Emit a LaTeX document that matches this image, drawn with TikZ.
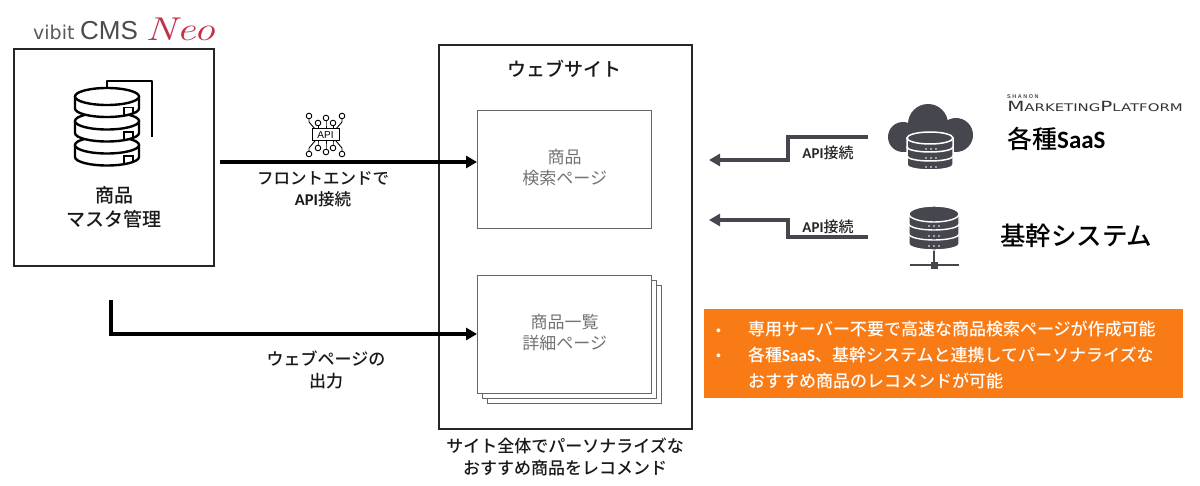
\documentclass[tikz,border=0pt]{standalone}
\usepackage{fontspec}
\setmainfont{Noto Sans CJK JP}[BoldFont={Noto Sans CJK JP Medium}]
\newfontfamily\latinfont{Liberation Sans}
\newfontfamily\widefont{DejaVu Sans}
\newfontfamily\neofont{Latin Modern Roman}
\newfontfamily\saasfont{Carlito}
\definecolor{iconGray}{HTML}{46464E}
\definecolor{barOrange}{HTML}{F97B16}
\definecolor{logoRed}{HTML}{C4304A}
\usetikzlibrary{arrows.meta, positioning, calc}

\begin{document}
\begin{tikzpicture}[x=1pt, y=-1pt,
    panel/.style={draw=black!85, line width=1.6pt, fill=white, anchor=north west, inner sep=0pt, outer sep=0pt},
    pagebox/.style={draw=black!60, line width=1.3pt, fill=white, anchor=north west, minimum width=174pt, minimum height=118pt, inner sep=0pt, align=center, font=\fontsize{17}{21}\selectfont, text=black!55, text depth=6pt},
    label/.style={align=center, font=\fontsize{17}{22}\selectfont\bfseries, text=black!90},
    apilabel/.style={font=\fontsize{15}{16}\selectfont\bfseries, text=black!85},
    flow/.style={line width=3.6pt, black, -{Triangle[length=11pt, width=12pt]}},
    backflow/.style={line width=3.2pt, iconGray, -{Triangle[length=11pt, width=12pt]}},
    summarytext/.style={font=\fontsize{17}{26}\selectfont\bfseries, text=white, anchor=north west, align=left, inner sep=0pt},
    summarymark/.style={font=\fontsize{14}{14}\selectfont\latinfont, text=white, anchor=base west, inner sep=0pt}
]
    \useasboundingbox (0,0) rectangle (1200,486);
    \fill[white] (0,0) rectangle (1200,486);

    % left side
    \node[font=\fontsize{19}{19}\selectfont\widefont, text=black!65, anchor=base west, inner sep=0pt] (logovibit) at (33,40) {vibit};
    \node[font=\fontsize{26}{26}\selectfont\latinfont, text=black!70, anchor=base west, inner sep=0pt] (logocms) at (80,40) {CMS};
    \node[font=\fontsize{33}{33}\selectfont\neofont\itshape, text=logoRed, anchor=base west, inner sep=0pt, xscale=1.3] (logoneo) at (145,41) {Neo};
    \node[panel, minimum width=200pt, minimum height=217pt] (cms) at (14,49) {};
    \node[label, font=\fontsize{19}{24}\selectfont\bfseries] (cmslabel) at (114,207) {商品\\マスタ管理};

    % database icon
    \draw[line width=2.5pt, line join=round] (107,96) -- (107,81) -- (152,81) -- (152,137);
    \foreach \y in {145,121,96.5}{
        \draw[line width=2.4pt, fill=white] (75,\y) -- (75,\y+12) arc[start angle=180, end angle=360, x radius=32, y radius=-8.5] -- (139,\y);
        \draw[line width=2.4pt, fill=white] (107,\y) ellipse[x radius=32, y radius=8.5];
        \draw[line width=1.8pt] (124,\y+19) -- (124,\y+11) -- (133,\y+11) -- (133,\y+18);
    }

    % website
    \node[panel, minimum width=253pt, minimum height=384pt] (site) at (439,45) {};
    \node[label, font=\fontsize{19}{19}\selectfont\bfseries] (sitetitle) at (564,69) {ウェブサイト};
    \node[pagebox] (search) at (477,110) {商品\\検索ページ};
    \node[pagebox] (listc) at (487,285) {};
    \node[pagebox] (listb) at (482,280) {};
    \node[pagebox] (list) at (477,275) {商品一覧\\詳細ページ};
    \node[label] (sitenote) at (565,457) {サイト全体でパーソナライズな\\おすすめ商品をレコメンド};

    % api icon
    \foreach \x/\e/\t/\b in {309/315/116/154,318/318/123/148,326/326/118/152,333/333/123/148,342/336/116/154}{
        \draw[line width=.9pt] (\x,\t) -- (\x,\t+6) -- (\e,129);
        \draw[line width=.9pt] (\x,\b) -- (\x,\b-6) -- (\e,141);
        \draw[line width=.9pt, fill=white] (\x,\t) circle[radius=2.8];
        \draw[line width=.9pt, fill=white] (\x,\b) circle[radius=2.8];
    }
    \node[draw, fill=white, line width=1pt, inner sep=0pt, minimum width=27pt, minimum height=12pt, font=\fontsize{10}{10}\selectfont\latinfont] (apiicon) at (325.5,135) {API};

    % connectors
    \coordinate (cmsout) at (220,162);
    \coordinate (cmsdown) at (111,300);
    \coordinate (cmscorner) at (111,334);
    \draw[flow] (cmsout) -- (search.west |- cmsout);
    \draw[flow] (cmsdown) -- (cmscorner) -- (list.west |- cmscorner);
    \node[label, font=\fontsize{16.5}{21}\selectfont\bfseries] (frontlabel) at (323,189.5) {フロントエンドで\\{\saasfont API}接続};
    \node[label] (outlabel) at (326,370) {ウェブページの\\出力};

    % right side
    \coordinate (saasout) at (868,137);
    \coordinate (saasin) at (709,160);
    \coordinate (coreout) at (868,237);
    \coordinate (corein) at (709,220);
    \draw[backflow] (saasout) -- (788,137) -- (788,160) -- (saasin);
    \draw[backflow] (coreout) -- (788,237) -- (788,220) -- (corein);
    \node[apilabel] (saasapi) at (828,153) {{\saasfont API}接続};
    \node[apilabel] (coreapi) at (828,227) {{\saasfont API}接続};

    % cloud icon
    \fill[iconGray] (903,137) circle[radius=15] (928,124) circle[radius=20] (956,135) circle[radius=17];
    \fill[iconGray] (903,130) rectangle (956,152);
    \foreach \y in {156,147,138}{
        \fill[iconGray, draw=white, line width=1.5pt] (907,\y) -- (907,\y+9) arc[start angle=180, end angle=360, x radius=23, y radius=-5] -- (953,\y) -- cycle;
    }
    \fill[iconGray, draw=white, line width=1.5pt] (930,138) ellipse[x radius=23, y radius=6];
    \foreach \y in {149,158,167}{
        \foreach \x in {-5,0,5}{
            \fill[white] (931+\x,\y) circle[radius=.9];
        }
    }

    % server icon
    \draw[iconGray, line width=1.6pt] (934,250) -- (934,266) (910,265) -- (959,265);
    \fill[iconGray] (931,262) rectangle (938,269);
    \foreach \y in {234,224,214}{
        \fill[iconGray, draw=white, line width=1.4pt] (909,\y) -- (909,\y+10) arc[start angle=180, end angle=360, x radius=25, y radius=-6] -- (959,\y) -- cycle;
    }
    \fill[iconGray, draw=white, line width=1.4pt] (934,214) ellipse[x radius=25, y radius=8];
    \foreach \y in {226,236,246}{
        \foreach \x in {-5,0,5}{
            \fill[white] (934+\x,\y) circle[radius=.9];
        }
    }

    % logo and system names
    \node[font=\fontsize{5.5}{6}\selectfont\latinfont\bfseries, text=black!70, anchor=base west, inner sep=0pt] (logoshanon) at (1007,99) {S H A N O N};
    \node[font=\fontsize{14}{14}\selectfont\widefont, text=black!80, anchor=base west, inner sep=0pt, xscale=1.42] (logomkt) at (1007,112) {M{\fontsize{10.5}{14}\selectfont ARKETING}P{\fontsize{10.5}{14}\selectfont LATFORM}};
    \node[font=\fontsize{25}{25}\selectfont\bfseries, anchor=west, inner sep=0pt] (saasname) at (1007,139) {各種{\saasfont SaaS}};
    \node[font=\fontsize{25.5}{25.5}\selectfont\bfseries, anchor=west, inner sep=0pt] (corename) at (1000,236) {基幹システム};

    % summary
    \node[fill=barOrange, anchor=north west, minimum width=479pt, minimum height=89pt, inner sep=0pt] (summary) at (704,309) {};
    \node[summarymark] (summarymarka) at (716,336) {•};
    \node[summarymark] (summarymarkb) at (716,361) {•};
    \node[summarytext] (summaryline) at (748,321) {専用サーバー不要で高速な商品検索ページが作成可能\\各種{\saasfont SaaS}、基幹システムと連携してパーソナライズな\\おすすめ商品のレコメンドが可能};
\end{tikzpicture}
\end{document}
